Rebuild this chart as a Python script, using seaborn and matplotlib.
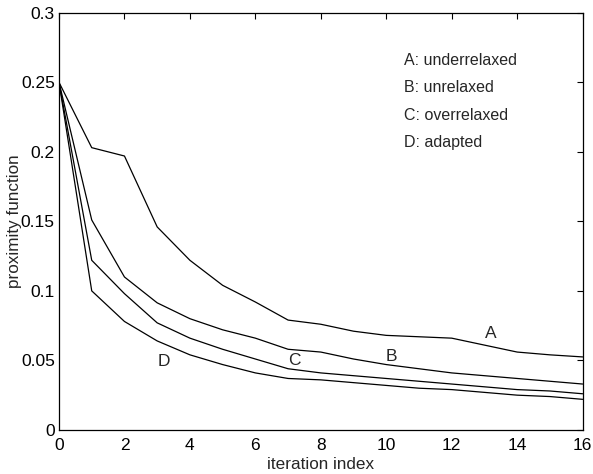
import numpy as np
import pandas as pd
import matplotlib
matplotlib.use("Agg")
import matplotlib.pyplot as plt
import seaborn as sns

# Values
iterations = list(range(17))
under_relaxed = [0.250, 0.203, 0.197, 0.146, 0.122, 0.104, 0.092, 0.079, 0.076,
                 0.071, 0.068, 0.067, 0.066, 0.061, 0.056, 0.054, 0.0525]
unrelaxed = [0.250, 0.151, 0.110, 0.0914, 0.080, 0.072, 0.066, 0.058, 0.056,
             0.051, 0.047, 0.044, 0.041, 0.039, 0.037, 0.035, 0.033]
over_relaxed = [0.250, 0.122, 0.098, 0.077, 0.066, 0.058, 0.051, 0.044, 0.041,
                0.039, 0.037, 0.035, 0.033, 0.031, 0.029, 0.028, 0.026]
adapted = [0.250, 0.100, 0.078, 0.064, 0.054, 0.047, 0.041, 0.037, 0.036,
           0.034, 0.032, 0.030, 0.029, 0.027, 0.025, 0.024, 0.022]

series_names = ["A", "B", "C", "D"]
legend_lines = ["A: underrelaxed", "B: unrelaxed", "C: overrelaxed", "D: adapted"]
label_pos = {"A": (13.2, 0.069), "B": (10.15, 0.0525), "C": (7.2, 0.0496), "D": (3.2, 0.049)}

df = pd.DataFrame({
    "iteration": iterations * 4,
    "value": under_relaxed + unrelaxed + over_relaxed + adapted,
    "method": [n for n in series_names for _ in iterations],
})

sns.set_style("white")
plt.rcParams["font.family"] = ["Liberation Sans", "DejaVu Sans"]

fig = plt.figure(figsize=(5.93, 4.74), dpi=100)
ax = fig.add_axes([0.0995, 0.093, 0.883, 0.88])

sns.lineplot(data=df, x="iteration", y="value", units="method", estimator=None,
             color="black", linewidth=0.9, ax=ax, legend=False)

for name, (x, y) in label_pos.items():
    ax.text(x, y, name, fontsize=12.5, ha="center", va="center")

for i, txt in enumerate(legend_lines):
    ax.text(10.55, 0.266 - i * 0.0198, txt, fontsize=11.5, ha="left", va="center")

ax.set_xlim(0, 16)
ax.set_ylim(0, 0.3)
ax.set_xticks(range(0, 17, 2))
ax.set_yticks([0, 0.05, 0.1, 0.15, 0.2, 0.25, 0.3])
ax.set_yticklabels(["0", "0.05", "0.1", "0.15", "0.2", "0.25", "0.3"])
ax.tick_params(direction="in", top=True, right=True, length=4, width=0.8,
               labelsize=12.5, colors="black")
ax.tick_params(axis="x", pad=6)
ax.tick_params(axis="y", pad=3)
for s in ax.spines.values():
    s.set_color("black")
    s.set_linewidth(0.9)
ax.set_xlabel("iteration index", fontsize=12.3)
ax.set_ylabel("proximity function", fontsize=12.3)
ax.xaxis.set_label_coords(0.5, -0.066)
ax.yaxis.set_label_coords(-0.07, 0.5)

fig.savefig("out.png", dpi=100)
